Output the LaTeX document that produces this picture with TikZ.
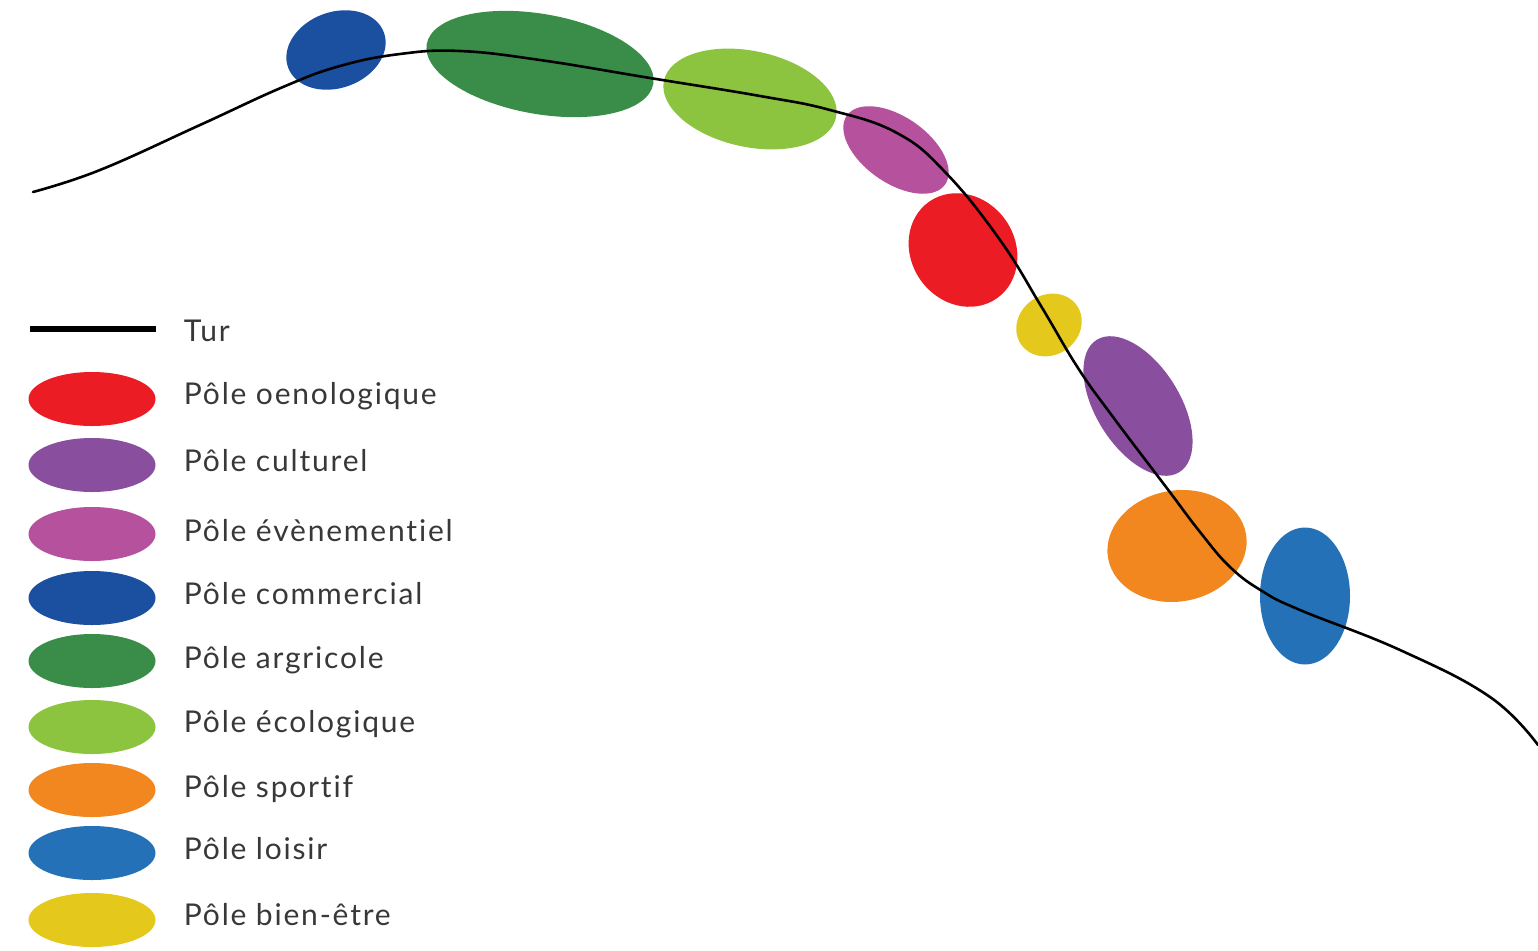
\documentclass[tikz,border=0pt]{standalone}
\usepackage{fontspec}
\setmainfont{Lato}[Ligatures=NoCommon, LetterSpace=6]
\usetikzlibrary{shapes.geometric}
\definecolor{oeno}{HTML}{EC1C24}
\definecolor{cult}{HTML}{8A4E9E}
\definecolor{even}{HTML}{B5519D}
\definecolor{comm}{HTML}{1B4FA0}
\definecolor{agri}{HTML}{3A8D48}
\definecolor{ecol}{HTML}{8CC43F}
\definecolor{spor}{HTML}{F2871F}
\definecolor{lois}{HTML}{2571B7}
\definecolor{bien}{HTML}{E4C91C}
\tikzset{
  pole/.style={ellipse, draw=none, inner sep=0pt},
  legpole/.style={pole, minimum width=127pt, minimum height=54pt},
  legtext/.style={anchor=base west, inner sep=0.75pt, text=black!78,
    font=\fontsize{30}{34}\selectfont},
}

\begin{document}
\begin{tikzpicture}[x=1pt,y=-1pt]
\useasboundingbox (0,0) rectangle (1538,950);
% poles le long du Tur
\node [pole, fill=comm, minimum width=102pt, minimum height=76pt, rotate=20] (p-comm) at (336,50) {};
\node [pole, fill=agri, minimum width=230pt, minimum height=100pt, rotate=-10] (p-agri) at (540,64) {};
\node [pole, fill=ecol, minimum width=176pt, minimum height=96pt, rotate=-12] (p-ecol) at (750,99) {};
\node [pole, fill=even, minimum width=120pt, minimum height=66pt, rotate=-35] (p-even) at (896,150) {};
\node [pole, fill=oeno, minimum width=118pt, minimum height=104pt, rotate=-55] (p-oeno) at (963,250) {};
\node [pole, fill=bien, minimum width=68pt, minimum height=60pt, rotate=35] (p-bien) at (1049,325) {};
\node [pole, fill=cult, minimum width=156pt, minimum height=84pt, rotate=-58] (p-cult) at (1138,406) {};
\node [pole, fill=spor, minimum width=140pt, minimum height=111pt, rotate=10] (p-spor) at (1177,546) {};
\node [pole, fill=lois, minimum width=90pt, minimum height=137pt] (p-lois) at (1305,596) {};
% le Tur
\draw [line width=2.6pt, line cap=round] plot [smooth, tension=0.7] coordinates {
  (33,192) (100,170) (200,125) (283,87) (340,66) (400,54) (460,51)
  (540,60) (650,78) (760,96) (830,110) (897,133) (946,173) (1000,240)
  (1041,306) (1078,368) (1113,417) (1166,487) (1200,532) (1230,567)
  (1262,591) (1300,610) (1400,650) (1490,697) (1538,745)};
% legende
\coordinate (tur-a) at (30,329);
\coordinate (tur-b) at (156,329);
\draw [line width=5.5pt] (tur-a) -- (tur-b);
\node [legtext] (t-tur) at (183,341) {Tur};
\node [legpole, fill=oeno] (l-oeno) at (92,399) {};
\node [legtext] (t-oeno) at (183,404) {Pôle oenologique};
\node [legpole, fill=cult] (l-cult) at (92,465) {};
\node [legtext] (t-cult) at (183,471) {Pôle culturel};
\node [legpole, fill=even] (l-even) at (92,534) {};
\node [legtext] (t-even) at (183,541) {Pôle évènementiel};
\node [legpole, fill=comm] (l-comm) at (92,598) {};
\node [legtext] (t-comm) at (183,604) {Pôle commercial};
\node [legpole, fill=agri] (l-agri) at (92,661) {};
\node [legtext] (t-agri) at (183,668) {Pôle argricole};
\node [legpole, fill=ecol] (l-ecol) at (92,727) {};
\node [legtext] (t-ecol) at (183,732) {Pôle écologique};
\node [legpole, fill=spor] (l-spor) at (92,790) {};
\node [legtext] (t-spor) at (183,797) {Pôle sportif};
\node [legpole, fill=lois] (l-lois) at (92,853) {};
\node [legtext] (t-lois) at (183,859) {Pôle loisir};
\node [legpole, fill=bien] (l-bien) at (92,920) {};
\node [legtext] (t-bien) at (183,925) {Pôle bien-être};
\end{tikzpicture}
\end{document}
